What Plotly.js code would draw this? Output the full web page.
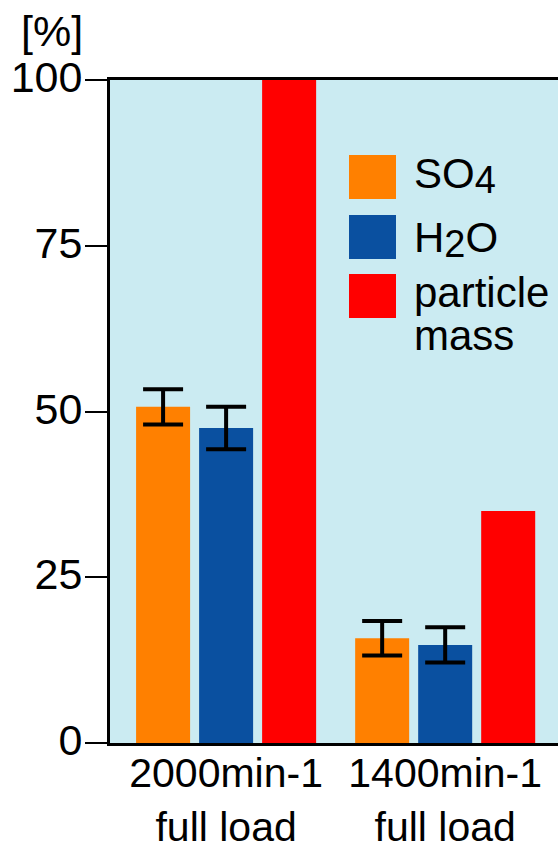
<!DOCTYPE html>
<html>
<head>
<meta charset="utf-8">
<script src="https://cdn.plot.ly/plotly-3.0.1.min.js"></script>
<style>html,body{margin:0;padding:0;background:#fff;}#chart{width:558px;height:848px;}</style>
</head>
<body>
<div id="chart"></div>
<script>
// Data
const categories = ["2000min-1<br>full load", "1400min-1<br>full load"];
const so4Values = [50.7, 15.8];
const so4Errors = [2.65, 2.6];
const h2oValues = [47.5, 14.8];
const h2oErrors = [3.2, 2.65];
const particleMassValues = [100, 35.0];
const seriesNames = [
  "SO<span style='font-size:38px;baseline-shift:-5px'>4</span>",
  "H<span style='font-size:38px;baseline-shift:-5px'>2</span>O",
  "particle", "mass"];
const yTickValues = [0, 25, 50, 75, 100];

const FONT = "Liberation Sans, Arial, Helvetica, sans-serif";
const colors = {so4: "#ff8000", h2o: "#0a50a0", pm: "#ff0000"};

const errStyle = {type: "data", visible: true, color: "#000", thickness: 4, width: 20};

const traces = [
  {type: "bar", x: categories, y: so4Values, name: "SO4", marker: {color: colors.so4},
   error_y: Object.assign({array: so4Errors}, errStyle)},
  {type: "bar", x: categories, y: h2oValues, name: "H2O", marker: {color: colors.h2o},
   error_y: Object.assign({array: h2oErrors}, errStyle)},
  {type: "bar", x: categories, y: particleMassValues, name: "particle mass", marker: {color: colors.pm}}
];

// legend box geometry (pixel -> paper helper)
const L = 110, T = 80, W = 448, H = 663;
const px = v => (v - L) / W;
const py = v => (T + H - v) / H;

const swatches = [[155, colors.so4], [215, colors.h2o], [274, colors.pm]];
const shapes = swatches.map(([top, c]) => ({
  type: "rect", xref: "paper", yref: "paper",
  x0: px(349), x1: px(396), y0: py(top + 44), y1: py(top),
  fillcolor: c, line: {width: 0}
}));

const labelY = [175, 239, 292, 335];
const annotations = seriesNames.map((t, i) => ({
  xref: "paper", yref: "paper", x: px(412), y: py(labelY[i]),
  xanchor: "left", yanchor: "middle", text: t, showarrow: false,
  font: {family: FONT, size: 42, color: "#000"}
}));
annotations.push({
  xref: "paper", yref: "paper", x: px(52), y: py(31), xanchor: "center", yanchor: "middle",
  text: "[%]", showarrow: false, font: {family: FONT, size: 43, color: "#000"}
});

const layout = {
  width: 558, height: 848,
  margin: {l: L, r: 0, t: T, b: 848 - T - H, pad: 0},
  paper_bgcolor: "#ffffff", plot_bgcolor: "#cbebf2",
  showlegend: false,
  barmode: "group", bargap: 0.137, bargroupgap: 0.143,
  font: {family: FONT, size: 41, color: "#000"},
  xaxis: {
    type: "category", range: [-0.53, 1.515],
    showline: true, linecolor: "#000", linewidth: 3, mirror: true,
    ticks: "", showgrid: false, zeroline: false, ticklabelstandoff: -8,
    tickfont: {family: FONT, size: 41, color: "#000"}
  },
  yaxis: {
    range: [0, 100], tickvals: yTickValues, ticktext: yTickValues.map(String),
    showline: true, linecolor: "#000", linewidth: 3,
    ticks: "outside", ticklen: 22, tickwidth: 2, tickcolor: "#000",
    showgrid: false, zeroline: false, ticklabelstandoff: -6, ticklabelshift: -3,
    tickfont: {family: FONT, size: 43, color: "#000"}
  },
  shapes: shapes,
  annotations: annotations
};

Plotly.newPlot("chart", traces, layout, {displayModeBar: false, staticPlot: true});
</script>
</body>
</html>
